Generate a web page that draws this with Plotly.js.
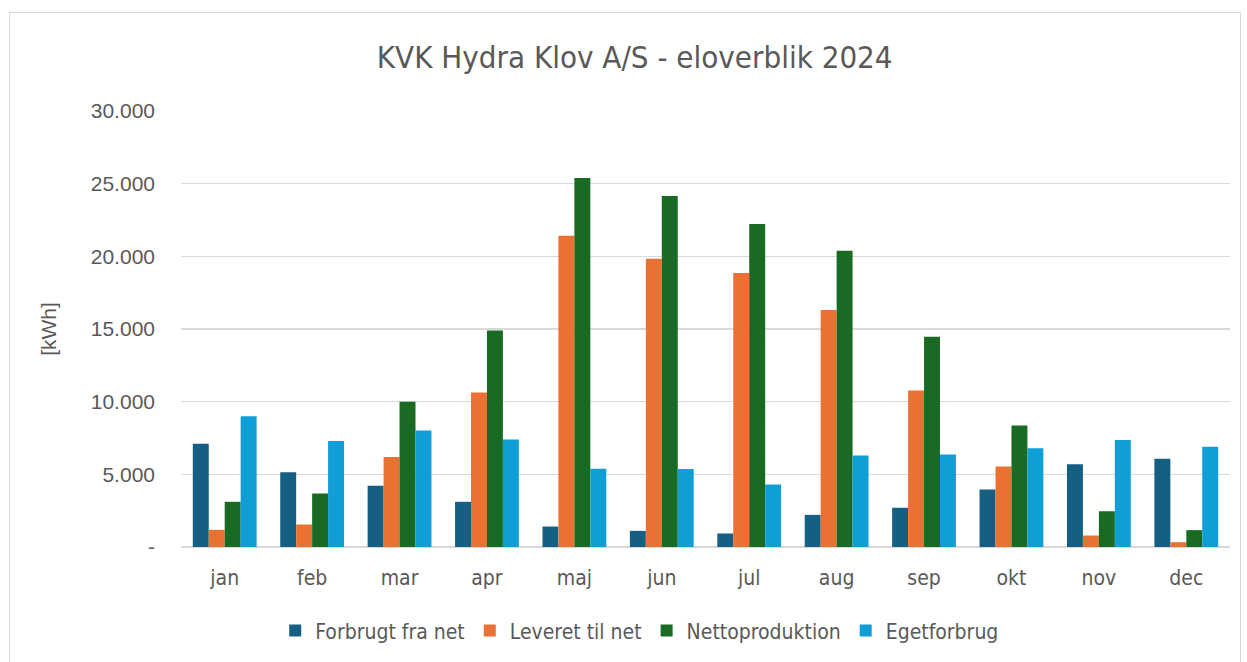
<!DOCTYPE html>
<html>
<head>
<meta charset="utf-8">
<script src="https://cdn.plot.ly/plotly-3.0.1.min.js"></script>
<style>
  body { margin: 0; background: #fff; }
  #wrap { position: relative; width: 1247px; height: 662px; }
  #plot { position: absolute; left: 0; top: 0; width: 1247px; height: 662px; }
  #frame { position: absolute; left: 9px; top: 12px; width: 1230px; height: 660px;
           border: 1px solid #d9d9d9; pointer-events: none; }
</style>
</head>
<body>
<div id="wrap">
  <div id="plot"></div>
  <div id="frame"></div>
</div>
<script>
// months on the x axis
let months = ["jan", "feb", "mar", "apr", "maj", "jun", "jul", "aug", "sep", "okt", "nov", "dec"]

// kWh per month
let forbrugt = [7100, 5140, 4210, 3110, 1410, 1110, 930, 2210, 2700, 3950, 5700, 6070]
let leveret = [1180, 1550, 6200, 10630, 21420, 19840, 18860, 16310, 10760, 5540, 790, 330]
let netto = [3110, 3680, 9990, 14890, 25390, 24150, 22230, 20390, 14460, 8360, 2460, 1160]
let egetforbrug = [9000, 7300, 8010, 7390, 5380, 5360, 4300, 6290, 6360, 6800, 7370, 6890]

// y ticks, Excel style with "-" for zero
let yTickVals = [0, 5000, 10000, 15000, 20000, 25000, 30000]
let yTickText = ["-", "5.000", "10.000", "15.000", "20.000", "25.000", "30.000"]

let narrow = "'Liberation Sans Narrow', 'DejaVu Sans Condensed', Arial, sans-serif"
let grey = "#595959"

function makeTrace(name, values, color) {
    return {
        x: months,
        y: values,
        name: name,
        type: "bar",
        marker: { color: color, line: { width: 0 } },
        hoverinfo: "x+y+name"
    }
}

let data = [
    makeTrace("Forbrugt fra net", forbrugt, "#156082"),
    makeTrace("Leveret til net", leveret, "#E97132"),
    makeTrace("Nettoproduktion", netto, "#196B24"),
    makeTrace("Egetforbrug", egetforbrug, "#0F9ED5")
]

let layout = {
    width: 1247,
    height: 662,
    paper_bgcolor: "rgba(0,0,0,0)",
    plot_bgcolor: "#fff",
    barmode: "group",
    bargap: 0.27,
    bargroupgap: 0,
    title: {
        text: "KVK Hydra Klov A/S - eloverblik 2024",
        font: { family: narrow, size: 31, color: grey },
        xref: "container",
        x: 0.509,
        xanchor: "center",
        yref: "container",
        y: 0.914,
        yanchor: "middle"
    },
    margin: { l: 181, r: 17, t: 111, b: 115, pad: 0 },
    xaxis: {
        tickfont: { family: narrow, size: 21, color: grey },
        showline: false,
        ticks: "",
        ticklabelstandoff: 16
    },
    yaxis: {
        range: [0, 30000],
        tickvals: yTickVals,
        ticktext: yTickText,
        tickfont: { family: "'Liberation Sans', Arial, sans-serif", size: 21, color: grey },
        gridcolor: "#d9d9d9",
        gridwidth: 1.5,
        zeroline: true,
        zerolinecolor: "#d9d9d9",
        zerolinewidth: 2,
        ticks: "",
        ticklabelstandoff: 25,
        title: {
            text: "[kWh]",
            font: { family: "'Liberation Sans', Arial, sans-serif", size: 21, color: grey },
            standoff: 28
        }
    },
    showlegend: true,
    legend: {
        orientation: "h",
        xref: "container",
        x: 0.513,
        xanchor: "center",
        yref: "container",
        y: 0.047,
        yanchor: "middle",
        font: { family: narrow, size: 21, color: grey },
        itemwidth: 30
    }
}

Plotly.newPlot("plot", data, layout, { displayModeBar: false, staticPlot: true });
</script>
</body>
</html>
